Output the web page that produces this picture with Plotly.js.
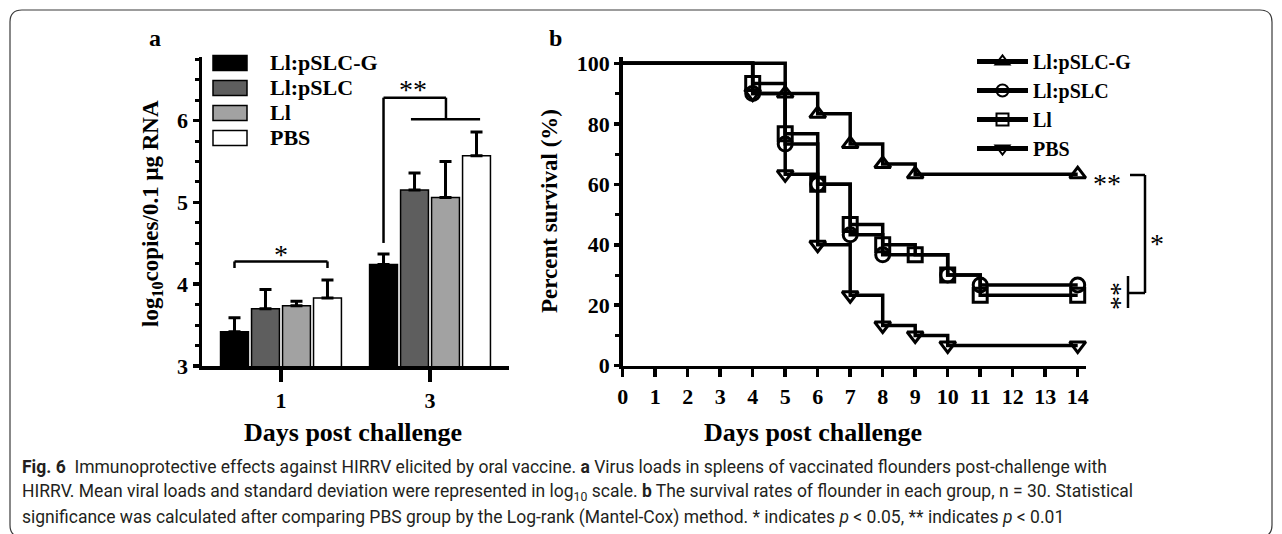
<!DOCTYPE html>
<html>
<head>
<meta charset="utf-8">
<script src="https://cdn.plot.ly/plotly-3.0.1.min.js"></script>
<style>html,body{margin:0;padding:0;background:#fff;}#chart{width:1282px;height:534px;}</style>
</head>
<body>
<div id="chart"></div>
<script>
// ---------- Panel a data: virus loads (log10 copies / 0.1 ug RNA) ----------
const daysA = ['1', '3'];
const groupNames = ['Ll:pSLC-G', 'Ll:pSLC', 'Ll', 'PBS'];
const loadLlpSLCG = [3.42, 4.24];
const loadLlpSLC  = [3.70, 5.15];
const loadLl      = [3.735, 5.06];
const loadPBS     = [3.83, 5.57];
const sdLlpSLCG = [0.17, 0.13];
const sdLlpSLC  = [0.235, 0.21];
const sdLl      = [0.055, 0.44];
const sdPBS     = [0.22, 0.29];

// ---------- Panel b data: percent survival ----------
const dayG    = [0, 5, 6, 7, 8, 9, 14];
const survG   = [100, 90, 83.3, 73.3, 66.7, 63.3, 63.3];
const daySLC  = [0, 4, 5, 6, 7, 8, 10, 11, 14];
const survSLC = [100, 90, 73.3, 60, 43.3, 36.7, 30, 26.7, 26.7];
const dayLl   = [0, 4, 5, 6, 7, 8, 9, 10, 11, 14];
const survLl  = [100, 93.3, 76.7, 60, 46.7, 40, 36.7, 30, 23.3, 23.3];
const dayPBS  = [0, 4, 5, 6, 7, 8, 9, 10, 14];
const survPBS = [100, 90, 63.3, 40, 23.3, 13.3, 10, 6.7, 6.7];
const xTicksB = [0,1,2,3,4,5,6,7,8,9,10,11,12,13,14];

// ---------- helpers ----------
const W = 1282, H = 534;
const px = x => x / W;
const py = y => 1 - y / H;
const SERIF = 'Liberation Serif, Times New Roman, serif';
const bold = (size) => ({family: SERIF, size: size, color: '#000', weight: 'bold'});

const barColors = ['#000000', '#5e5e5e', '#a2a2a2', '#ffffff'];
const loads = [loadLlpSLCG, loadLlpSLC, loadLl, loadPBS];
const sds = [sdLlpSLCG, sdLlpSLC, sdLl, sdPBS];

const traces = [];
groupNames.forEach((name, i) => {
  traces.push({
    type: 'bar', name: name, x: daysA, y: loads[i],
    xaxis: 'x', yaxis: 'y', showlegend: false,
    marker: {color: barColors[i], line: {color: '#000', width: 1.5}},
    error_y: {type: 'data', symmetric: false, array: sds[i], arrayminus: sds[i].map(() => 0),
              color: '#000', thickness: 3, width: 6}
  });
});

const survX = [dayG, daySLC, dayLl, dayPBS];
const survY = [survG, survSLC, survLl, survPBS];
const symbols = ['triangle-up-open', 'circle-open', 'square-open', 'triangle-down-open'];
groupNames.forEach((name, i) => {
  traces.push({
    type: 'scatter', mode: 'lines+markers', name: name,
    x: survX[i], y: survY[i], xaxis: 'x2', yaxis: 'y2', legend: 'legend2',
    cliponaxis: false,
    line: {shape: 'hv', color: '#000', width: 3.5},
    marker: {symbol: symbols[i], color: '#000', opacity: 1,
             size: survX[i].map((d, k) => k === 0 ? 0 : 14),
             line: {color: '#000', width: 3}}
  });
});

// ---------- annotations (titles, labels, caption) ----------
const ann = [];
function txt(t, x, y, font, opts) {
  ann.push(Object.assign({text: t, xref: 'paper', yref: 'paper', x: px(x), y: py(y),
    xanchor: 'center', yanchor: 'middle', showarrow: false, font: font}, opts || {}));
}
txt('a', 155, 38, bold(24));
txt('b', 555, 38, bold(24));
txt('log<sub>10</sub>copies/0.1 μg RNA', 152, 214, bold(23), {textangle: -90});
txt('Days post challenge', 353, 432, bold(26));
txt('Percent survival (%)', 550, 211, bold(23), {textangle: -90});
txt('Days post challenge', 813, 432, bold(26));

// panel a legend labels
const legRowsA = [63, 88, 113, 138];
groupNames.forEach((n, i) => txt(n, 268, legRowsA[i], bold(22), {xanchor: 'left'}));

// significance marks
const star = {family: SERIF, size: 28, color: '#000'};
txt('*', 281, 254, star);
txt('**', 413, 90, star);
txt('**', 1107, 183, star);
txt('*', 1157, 243, star);
txt('**', 1113, 296, star, {textangle: 90});

// caption
const capFont = {family: 'Roboto, Open Sans, sans-serif', size: 17.5, color: '#231f20'};
txt('<b>Fig. 6</b>  Immunoprotective effects against HIRRV elicited by oral vaccine. <b>a</b> Virus loads in spleens of vaccinated flounders post-challenge with', 20, 467, capFont, {xanchor: 'left'});
txt('HIRRV. Mean viral loads and standard deviation were represented in log<sub>10</sub> scale. <b>b</b> The survival rates of flounder in each group, n = 30. Statistical', 20, 492, capFont, {xanchor: 'left'});
txt('significance was calculated after comparing PBS group by the Log-rank (Mantel-Cox) method. * indicates <i>p</i> < 0.05, ** indicates <i>p</i> < 0.01', 20, 517, capFont, {xanchor: 'left'});

// ---------- shapes ----------
const shapes = [];
const ln = {color: '#000', width: 2.5};
function segD(x0, y0, x1, y1) { shapes.push({type: 'line', xref: 'x', yref: 'y', x0, y0, x1, y1, line: ln}); }
function segP(x0, y0, x1, y1) { shapes.push({type: 'line', xref: 'paper', yref: 'paper', x0: px(x0), y0: py(y0), x1: px(x1), y1: py(y1), line: ln}); }
// day 1 bracket
segD(-0.312, 4.198, -0.312, 4.278); segD(-0.312, 4.278, 0.312, 4.278); segD(0.312, 4.278, 0.312, 4.198);
// day 3 bracket
segD(0.688, 4.504, 0.688, 6.28); segD(0.688, 6.28, 1.107, 6.28); segD(1.107, 6.28, 1.107, 6.016);
segD(0.872, 6.016, 1.336, 6.016);
// panel b brackets
segP(1130, 175, 1145, 175); segP(1145, 175, 1145, 293); segP(1128, 293, 1145, 293); segP(1128, 276, 1128, 308);
// panel a legend swatches
legRowsA.forEach((y, i) => shapes.push({type: 'rect', xref: 'paper', yref: 'paper',
  x0: px(213), x1: px(247), y0: py(y - 7.5), y1: py(y + 7.5),
  fillcolor: barColors[i], line: {color: '#000', width: 1.5}}));
// outer frame (rounded)
(function () {
  const x0 = px(10), x1 = px(1272), yT = py(10), yB = py(537), rx = px(12), ry = 12 / H;
  shapes.push({type: 'path', xref: 'paper', yref: 'paper', line: {color: '#3a3a3a', width: 1.2},
    path: `M${x0 + rx},${yT} L${x1 - rx},${yT} Q${x1},${yT} ${x1},${yT - ry} L${x1},${yB + ry} Q${x1},${yB} ${x1 - rx},${yB} L${x0 + rx},${yB} Q${x0},${yB} ${x0},${yB + ry} L${x0},${yT - ry} Q${x0},${yT} ${x0 + rx},${yT} Z`});
})();

const axisCommon = {showline: true, linecolor: '#000', linewidth: 3.5, showgrid: false, zeroline: false,
  ticks: 'outside', tickcolor: '#000', tickwidth: 3.5, tickfont: bold(22), fixedrange: true, automargin: false};

const layout = {
  width: W, height: H, margin: {l: 0, r: 0, t: 0, b: 0},
  paper_bgcolor: '#fff', plot_bgcolor: 'rgba(0,0,0,0)',
  barmode: 'group', bargap: 0.168, bargroupgap: 0.1,
  xaxis: Object.assign({}, axisCommon, {domain: [px(202), px(509)], anchor: 'y', type: 'category',
    range: [-0.53, 1.53], ticklen: 12}),
  yaxis: Object.assign({}, axisCommon, {domain: [py(366), py(57)], anchor: 'x', range: [3, 6.777],
    tick0: 3, dtick: 1, ticklen: 6,
    minor: {dtick: 0.25, ticks: 'outside', ticklen: 4, tickwidth: 3, tickcolor: '#000', showgrid: false}}),
  xaxis2: Object.assign({}, axisCommon, {domain: [px(622.7), px(1085.7)], anchor: 'y2', range: [0, 14.246],
    tickmode: 'array', tickvals: xTicksB, ticktext: xTicksB.map(String), ticklen: 8}),
  yaxis2: Object.assign({}, axisCommon, {domain: [py(365.7), py(56.7)], anchor: 'x2', range: [0, 102.2],
    tick0: 0, dtick: 20, ticklen: 5,
    minor: {dtick: 10, ticks: 'outside', ticklen: 4, tickwidth: 3, tickcolor: '#000', showgrid: false}}),
  showlegend: true,
  legend2: {x: px(972), y: py(42), xanchor: 'left', yanchor: 'top', bgcolor: 'rgba(0,0,0,0)',
    font: bold(20), itemsizing: 'constant', tracegroupgap: 0, itemwidth: 51},
  annotations: ann,
  shapes: shapes
};

Plotly.newPlot('chart', traces, layout, {displayModeBar: false, staticPlot: true});
</script>
</body>
</html>
